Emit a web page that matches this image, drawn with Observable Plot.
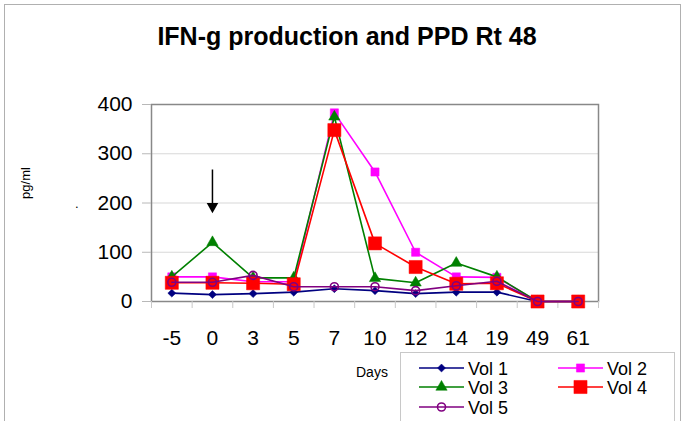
<!DOCTYPE html>
<html>
<head>
<meta charset="utf-8">
<script src="https://cdn.jsdelivr.net/npm/d3@7"></script>
<script src="https://cdn.jsdelivr.net/npm/@observablehq/plot@0.6"></script>
<style>
  html, body { margin: 0; padding: 0; background: #fff; }
  #wrap { position: relative; width: 685px; height: 421px; overflow: hidden; font-family: "Liberation Sans", Arial, sans-serif; }
  #outer { position: absolute; left: 4px; top: 4px; width: 675px; height: 440px; border: 1px solid #b0b0b0; }
  #title { position: absolute; left: 0; width: 694px; top: 22px; text-align: center; font-size: 25px; font-weight: bold; color: #000; }
  #ylab { position: absolute; left: 25px; top: 183px; transform: translate(-50%, -50%) rotate(-90deg); font-size: 13px; white-space: nowrap; }
  #dot { position: absolute; left: 75px; top: 196px; font-size: 13px; }
  #days { position: absolute; left: 356px; top: 364px; font-size: 14px; }
  #legend { position: absolute; left: 400px; top: 352px; width: 273px; height: 90px; border: 1px solid #c8c8c8; background: #fff; }
  #plot { position: absolute; left: 0; top: 0; }
</style>
</head>
<body>
<div id="wrap">
  <div id="outer"></div>
  <div id="plot"></div>
  <div id="title">IFN-g production and PPD Rt 48</div>
  <div id="ylab">pg/ml</div>
  <div id="dot">.</div>
  <div id="days">Days</div>
  <div id="legend"></div>
</div>
<script>
const days = ["-5", "0", "3", "5", "7", "10", "12", "14", "19", "49", "61"];
const vol1 = [17, 14, 16, 19, 26, 22, 16, 19, 19, 0, 0];
const vol2 = [50, 50, 40, 40, 383, 263, 100, 50, 49, 0, 0];
const vol3 = [50, 120, 48, 48, 375, 47, 38, 78, 50, 0, 0];
const vol4 = [38, 38, 37, 35, 348, 118, 70, 36, 37, 0, 0];
const vol5 = [39, 39, 53, 30, 30, 30, 22, 32, 41, 0, 0];
const seriesNames = ["Vol 1", "Vol 2", "Vol 3", "Vol 4", "Vol 5"];
const yTicks = [0, 100, 200, 300, 400];
const arrowDay = "0";
const arrowTop = 267;
const arrowTip = 193;

const styles = [
  {color: "#000080", symbol: "diamond2", r: 3.6, fill: true},
  {color: "#ff00ff", symbol: "square", r: 4.6, fill: true},
  {color: "#008000", symbol: "triangle", r: 4.2, fill: true},
  {color: "#ff0000", symbol: "square", r: 7.4, fill: true},
  {color: "#800080", symbol: "circle", r: 4.0, fill: false}
];
const values = [vol1, vol2, vol3, vol4, vol5];

const idx = days.map((d, i) => i);
const bounds = days.map((d, i) => i - 0.5).concat([days.length - 0.5]);

const marks = [
  Plot.gridY(yTicks.filter(v => v > 0 && v < 400), {stroke: "#d8d8d8", strokeOpacity: 1, strokeWidth: 1.2}),
  Plot.frame({stroke: "#888", strokeWidth: 1.5}),
  Plot.axisY({ticks: yTicks, tickSize: 9, tickPadding: 10, fontSize: 21, stroke: "#b8b8b8", color: "#000", label: null}),
  Plot.axisX({ticks: bounds, tickSize: 7, tickFormat: () => "", stroke: "#c8c8c8", label: null}),
  Plot.axisX({ticks: idx, tickSize: 0, tickPadding: 29, tickFormat: i => days[i], fontSize: 21, label: null})
];

values.forEach((vals, s) => {
  const data = vals.map((v, i) => ({x: i, y: v}));
  const st = styles[s];
  marks.push(Plot.line(data, {x: "x", y: "y", stroke: st.color, strokeWidth: 1.6}));
  marks.push(Plot.dot(data, {
    x: "x", y: "y", symbol: st.symbol, r: st.r,
    fill: st.fill ? st.color : "none", stroke: st.color, strokeWidth: st.fill ? 0.5 : 1.6
  }));
});

const ai = days.indexOf(arrowDay);
marks.push(Plot.ruleX([ai], {y1: arrowTop, y2: arrowTip, stroke: "#000", strokeWidth: 1.5}));
marks.push(Plot.dot([ai], {x: d => d, y: arrowTip, symbol: "triangle", rotate: 180, r: 4.3, fill: "#000", stroke: "none"}));

const chart = Plot.plot({
  width: 685,
  height: 421,
  marginLeft: 151,
  marginRight: 87,
  marginTop: 104,
  marginBottom: 120,
  style: {background: "transparent", fontFamily: "Liberation Sans, Arial, sans-serif", overflow: "visible"},
  x: {type: "linear", domain: [-0.5, days.length - 0.5]},
  y: {domain: [0, 400]},
  marks
});
document.getElementById("plot").appendChild(chart);

// Legend
const leg = d3.select("#legend").append("svg").attr("width", 273).attr("height", 90);
const pos = [
  {x: 18, y: 15}, {x: 157, y: 15},
  {x: 18, y: 34}, {x: 157, y: 34},
  {x: 18, y: 54}
];
seriesNames.forEach((name, s) => {
  const st = styles[s];
  const p = pos[s];
  const g = leg.append("g").attr("transform", `translate(${p.x},${p.y})`);
  g.append("line").attr("x1", 0).attr("x2", 45).attr("y1", 0).attr("y2", 0).attr("stroke", st.color).attr("stroke-width", 1.6);
  const symMap = {diamond2: d3.symbolDiamond2, square: d3.symbolSquare, triangle: d3.symbolTriangle, circle: d3.symbolCircle};
  g.append("path").attr("transform", "translate(22.5,0)")
    .attr("d", d3.symbol(symMap[st.symbol], st.r * st.r * Math.PI)())
    .attr("fill", st.fill ? st.color : "none").attr("stroke", st.color).attr("stroke-width", st.fill ? 0.5 : 1.6);
  g.append("text").attr("x", 49).attr("y", 6.5).attr("font-size", 18).attr("font-family", "Liberation Sans, Arial, sans-serif").text(name);
});
</script>
</body>
</html>
